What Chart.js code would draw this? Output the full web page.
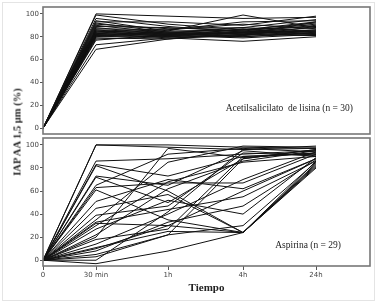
<!DOCTYPE html>
<html>
<head>
<meta charset="utf-8">
<script src="https://cdn.jsdelivr.net/npm/chart.js@4.4.1/dist/chart.umd.min.js"></script>
<style>
  html, body { margin: 0; padding: 0; background: #fff; }
  #wrap { position: relative; width: 377px; height: 304px; overflow: hidden; }
  #outline { position: absolute; left: 2px; top: 2px; width: 373px; height: 299px; border: 1px solid #e4e4e4; box-sizing: border-box; }
  canvas { position: absolute; left: 0; }
  #topChart { top: 0; }
  #bottomChart { top: 136px; }
  #ytitle {
    position: absolute; left: 17px; top: 132px;
    transform: translate(-50%, -50%) rotate(-90deg);
    font: bold 10.5px "Liberation Serif", serif; color: #222; white-space: nowrap;
  }
</style>
</head>
<body>
<div id="wrap">
  <div id="outline"></div>
  <canvas id="topChart" width="377" height="136"></canvas>
  <canvas id="bottomChart" width="377" height="168"></canvas>
  <div id="ytitle">IAP AA 1,5 µm (%)</div>
</div>
<script>
// time points, placed along the axis as in the original figure
const timeLabels = ['0', '30 min', '1h', '4h', '24h'];
const timePositions = [0, 53, 125, 200, 273];
const xMax = 327;
const yTicks = [0, 20, 40, 60, 80, 100];

// one row per patient: 0, 30 min, 1h, 4h, 24h
const lisinaValues = [
  [0, 100, 98, 96, 97],
  [0, 99, 91, 86, 93],
  [0, 96, 89, 84, 90],
  [0, 94, 85, 99, 88],
  [0, 93, 93, 90, 98],
  [0, 92, 84, 82, 86],
  [0, 91, 87, 88, 95],
  [0, 90, 83, 80, 84],
  [0, 89, 88, 85, 91],
  [0, 88, 82, 84, 83],
  [0, 87, 86, 93, 94],
  [0, 86, 81, 79, 82],
  [0, 86, 84, 86, 89],
  [0, 85, 83, 88, 85],
  [0, 85, 80, 82, 93],
  [0, 84, 82, 83, 81],
  [0, 84, 86, 91, 87],
  [0, 83, 81, 85, 84],
  [0, 83, 79, 76, 80],
  [0, 82, 84, 84, 86],
  [0, 82, 83, 81, 89],
  [0, 81, 80, 87, 82],
  [0, 81, 82, 83, 85],
  [0, 80, 85, 86, 92],
  [0, 80, 81, 80, 83],
  [0, 79, 78, 82, 81],
  [0, 78, 80, 84, 88],
  [0, 77, 82, 86, 84],
  [0, 73, 79, 81, 85],
  [0, 69, 78, 84, 82],
];

const aspirinaValues = [
  [0, 100, 100, 98, 97],
  [0, 100, 98, 96, 99],
  [0, 86, 88, 92, 95],
  [0, 83, 73, 90, 93],
  [0, 82, 60, 24, 82],
  [0, 73, 65, 95, 90],
  [0, 72, 50, 88, 96],
  [0, 65, 92, 97, 94],
  [0, 63, 67, 67, 92],
  [0, 61, 35, 24, 84],
  [0, 51, 70, 62, 88],
  [0, 39, 47, 93, 91],
  [0, 35, 85, 99, 98],
  [0, 33, 44, 55, 86],
  [0, 32, 30, 24, 80],
  [0, 27, 52, 40, 89],
  [0, 22, 62, 86, 95],
  [0, 18, 27, 90, 92],
  [0, 14, 40, 70, 94],
  [0, 11, 25, 24, 83],
  [0, 8, 33, 47, 87],
  [0, 5, 22, 88, 96],
  [0, 3, 22, 30, 85],
  [0, 0, 42, 96, 97],
  [0, -3, 8, 24, 81],
  [0, 20, 97, 89, 93],
  [0, 30, 68, 85, 90],
  [0, 45, 57, 24, 86],
  [0, 10, 30, 60, 88],
];

const tickFont = { family: 'DejaVu Sans', size: 7 };
const tickColor = '#444';

const framePlugin = {
  id: 'frame',
  afterDatasetsDraw(chart, args, opts) {
    const { ctx, chartArea: a } = chart;
    ctx.save();
    ctx.strokeStyle = '#777';
    ctx.lineWidth = 1.6;
    ctx.strokeRect(a.left, a.top, a.right - a.left, a.bottom - a.top);
    ctx.font = '9.5px "Liberation Serif"';
    ctx.fillStyle = '#222';
    ctx.textAlign = 'right';
    ctx.textBaseline = 'middle';
    ctx.fillText(opts.label, a.right - opts.dx, a.bottom - opts.dy);
    ctx.restore();
  },
};

function toDatasets(rows) {
  return rows.map(row => ({
    data: row.map((v, i) => ({ x: timePositions[i], y: v })),
    borderColor: '#111',
    borderWidth: 1,
    pointRadius: 0,
    tension: 0,
    fill: false,
  }));
}

function yScale() {
  return {
    min: -5,
    max: 106,
    afterBuildTicks: scale => { scale.ticks = yTicks.map(v => ({ value: v })); },
    afterFit: scale => {
      scale.width = 43;
      scale.paddingTop = 0;
      scale.paddingBottom = 0;
    },
    grid: { drawOnChartArea: false, tickLength: 3, color: '#555' },
    border: { display: false },
    ticks: { font: tickFont, color: tickColor, padding: 1 },
  };
}

function makePanel(canvasId, rows, label, dx, dy, showX) {
  const xScale = {
    type: 'linear',
    min: 0,
    max: xMax,
    display: showX,
    afterBuildTicks: scale => { scale.ticks = timePositions.map(v => ({ value: v })); },
    grid: { drawOnChartArea: false, tickLength: 4, color: '#555' },
    border: { display: false },
    ticks: {
      font: tickFont, color: tickColor, padding: 1, maxRotation: 0, autoSkip: false,
      callback: (value, index) => timeLabels[index],
    },
    title: {
      display: true, text: 'Tiempo', color: '#222',
      font: { family: 'Liberation Serif', size: 11, weight: 'bold' },
      padding: { top: 2, bottom: 0 },
    },
  };
  if (showX) {
    xScale.afterFit = scale => {
      scale.height = 29;
      scale.paddingLeft = 0;
      scale.paddingRight = 0;
    };
  }

  new Chart(document.getElementById(canvasId), {
    type: 'line',
    data: { datasets: toDatasets(rows) },
    options: {
      responsive: false,
      animation: false,
      layout: { padding: showX ? { left: 0, right: 7, top: 2, bottom: 9 } : { left: 0, right: 7, top: 7, bottom: 2 } },
      plugins: {
        legend: { display: false },
        tooltip: { enabled: false },
        frame: { label, dx, dy },
      },
      scales: { x: xScale, y: yScale() },
    },
    plugins: [framePlugin],
  });
}

makePanel('topChart', lisinaValues, 'Acetilsalicilato  de lisina (n = 30)', 17, 26, false);
makePanel('bottomChart', aspirinaValues, 'Aspirina (n = 29)', 29, 21, true);
</script>
</body>
</html>
